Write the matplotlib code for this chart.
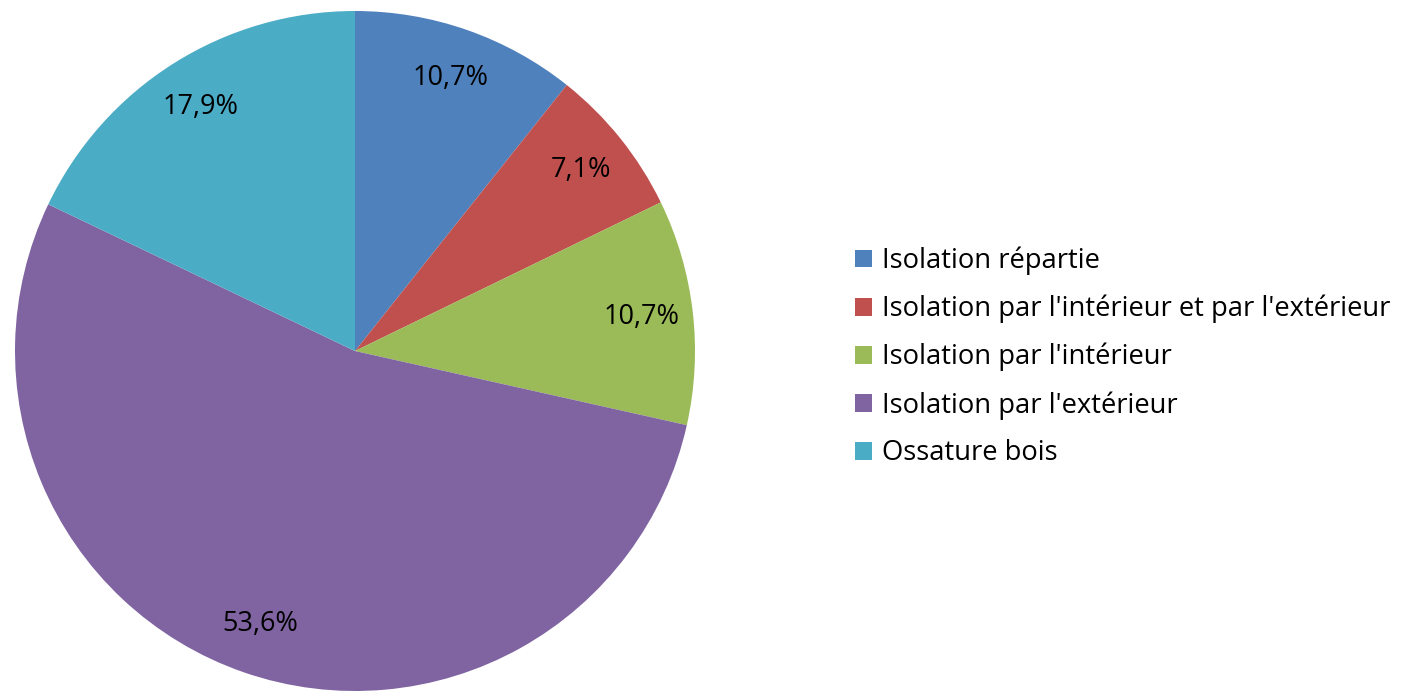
import matplotlib.pyplot as plt
from matplotlib.patches import Patch

categories = ["Isolation répartie",
              "Isolation par l'intérieur et par l'extérieur",
              "Isolation par l'intérieur",
              "Isolation par l'extérieur",
              "Ossature bois"]
values = [10.7, 7.1, 10.7, 53.6, 17.9]
colors = ["#4F81BD", "#C0504D", "#9BBB59", "#8064A2", "#4BACC6"]

plt.rcParams['font.family'] = ['Open Sans', 'DejaVu Sans']

fig = plt.figure(figsize=(14.05, 6.91), dpi=100)
ax = fig.add_axes([15 / 1405, 0, 680 / 1405, 680 / 691])

wedges, texts, autotexts = ax.pie(
    values, colors=colors, startangle=90, counterclock=False, radius=1,
    autopct=lambda p: f"{p:.1f}%".replace('.', ','), pctdistance=0.85,
    wedgeprops=dict(linewidth=0), textprops=dict(fontsize=19.5, color='black'))
ax.set_xlim(-1, 1)
ax.set_ylim(-1, 1)
ax.set_aspect('equal')

handles = [Patch(facecolor=c, edgecolor='none') for c in colors]
fig.legend(handles, categories, loc='center left', bbox_to_anchor=(855 / 1405, 1 - 357 / 691),
           frameon=False, fontsize=19.7, handlelength=0.63, handleheight=0.63,
           handletextpad=0.37, labelspacing=0.72, borderpad=0, borderaxespad=0)

fig.savefig("out.png", dpi=100)
